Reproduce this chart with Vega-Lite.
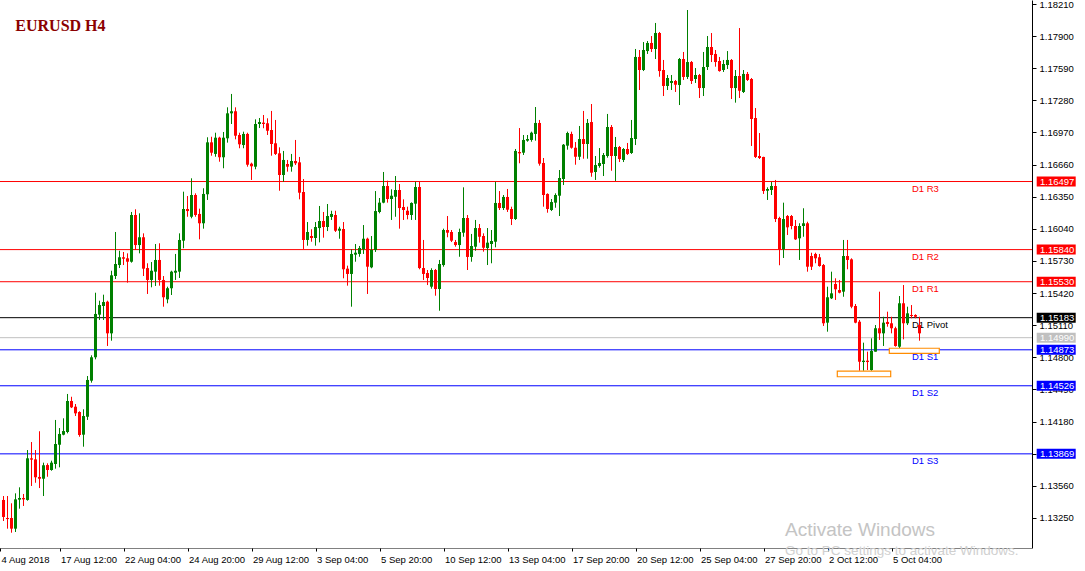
{
  "$schema": "https://vega.github.io/schema/vega-lite/v6.json",
  "width": 1032,
  "height": 548,
  "autosize": {"type": "none"},
  "padding": {"left": 0, "top": 0, "right": 53, "bottom": 23},
  "background": "white",
  "config": {
    "view": {"stroke": null},
    "axis": {"grid": false, "labelOverlap": false, "labelBound": false, "labelFlush": false, "labelFont": "Liberation Sans", "labelFontSize": 9.5, "labelColor": "#000000", "tickColor": "#000000", "domainColor": "#000000"}
  },
  "datasets": {
    "levels": [
      {"name": "D1 R3", "v": 1.16497, "kind": "res"},
      {"name": "D1 R2", "v": 1.1584, "kind": "res"},
      {"name": "D1 R1", "v": 1.1553, "kind": "res"},
      {"name": "D1 Pivot", "v": 1.15183, "kind": "piv"},
      {"name": "", "v": 1.1499, "kind": "bid"},
      {"name": "D1 S1", "v": 1.14873, "kind": "sup"},
      {"name": "D1 S2", "v": 1.14526, "kind": "sup"},
      {"name": "D1 S3", "v": 1.13869, "kind": "sup"}
    ],
    "zones": [
      {"k1": 208.45, "k2": 221.8, "p1": 1.14613, "p2": 1.14668},
      {"k1": 221.45, "k2": 233.95, "p1": 1.14839, "p2": 1.14888}
    ],
    "candles": [
      {"k":0,"o":1.13424,"h":1.13462,"l":1.13221,"c":1.13260},
      {"k":1,"o":1.13250,"h":1.13462,"l":1.13147,"c":1.13240},
      {"k":2,"o":1.13250,"h":1.13392,"l":1.13108,"c":1.13147},
      {"k":3,"o":1.13147,"h":1.13488,"l":1.13115,"c":1.13430},
      {"k":4,"o":1.13427,"h":1.13546,"l":1.13340,"c":1.13443},
      {"k":5,"o":1.13443,"h":1.13482,"l":1.13366,"c":1.13430},
      {"k":6,"o":1.13424,"h":1.13906,"l":1.13417,"c":1.13826},
      {"k":7,"o":1.13826,"h":1.13983,"l":1.13559,"c":1.13813},
      {"k":8,"o":1.13816,"h":1.13906,"l":1.13590,"c":1.13643},
      {"k":9,"o":1.13646,"h":1.14087,"l":1.13539,"c":1.13629},
      {"k":10,"o":1.13629,"h":1.13784,"l":1.13462,"c":1.13759},
      {"k":11,"o":1.13761,"h":1.13778,"l":1.13648,"c":1.13713},
      {"k":12,"o":1.13713,"h":1.13803,"l":1.13706,"c":1.13784},
      {"k":13,"o":1.13771,"h":1.14196,"l":1.13726,"c":1.13964},
      {"k":14,"o":1.13957,"h":1.14118,"l":1.13739,"c":1.14061},
      {"k":15,"o":1.14054,"h":1.14212,"l":1.14048,"c":1.14089},
      {"k":16,"o":1.14080,"h":1.14447,"l":1.14067,"c":1.14379},
      {"k":17,"o":1.14379,"h":1.14420,"l":1.14311,"c":1.14318},
      {"k":18,"o":1.14324,"h":1.14350,"l":1.14234,"c":1.14260},
      {"k":19,"o":1.14273,"h":1.14280,"l":1.14034,"c":1.14051},
      {"k":20,"o":1.14054,"h":1.14299,"l":1.13938,"c":1.14234},
      {"k":21,"o":1.14227,"h":1.14620,"l":1.14196,"c":1.14582},
      {"k":22,"o":1.14575,"h":1.14820,"l":1.14556,"c":1.14801},
      {"k":23,"o":1.14801,"h":1.15424,"l":1.14781,"c":1.15219},
      {"k":24,"o":1.15212,"h":1.15347,"l":1.15161,"c":1.15305},
      {"k":25,"o":1.15296,"h":1.15405,"l":1.15161,"c":1.15334},
      {"k":26,"o":1.15337,"h":1.15347,"l":1.14910,"c":1.15032},
      {"k":27,"o":1.15032,"h":1.15636,"l":1.14961,"c":1.15592},
      {"k":28,"o":1.15585,"h":1.16010,"l":1.15556,"c":1.15701},
      {"k":29,"o":1.15691,"h":1.15829,"l":1.15662,"c":1.15766},
      {"k":30,"o":1.15766,"h":1.15817,"l":1.15691,"c":1.15752},
      {"k":31,"o":1.15756,"h":1.15804,"l":1.15521,"c":1.15723},
      {"k":32,"o":1.15723,"h":1.16203,"l":1.15714,"c":1.16174},
      {"k":33,"o":1.16174,"h":1.16229,"l":1.15836,"c":1.15884},
      {"k":34,"o":1.15884,"h":1.16190,"l":1.15804,"c":1.15959},
      {"k":35,"o":1.15959,"h":1.15997,"l":1.15585,"c":1.15656},
      {"k":36,"o":1.15662,"h":1.15708,"l":1.15412,"c":1.15547},
      {"k":37,"o":1.15547,"h":1.15720,"l":1.15476,"c":1.15636},
      {"k":38,"o":1.15627,"h":1.15894,"l":1.15489,"c":1.15740},
      {"k":39,"o":1.15740,"h":1.15901,"l":1.15492,"c":1.15547},
      {"k":40,"o":1.15547,"h":1.15585,"l":1.15289,"c":1.15380},
      {"k":41,"o":1.15360,"h":1.15482,"l":1.15322,"c":1.15467},
      {"k":42,"o":1.15467,"h":1.15636,"l":1.15402,"c":1.15627},
      {"k":43,"o":1.15617,"h":1.15798,"l":1.15547,"c":1.15636},
      {"k":44,"o":1.15627,"h":1.15997,"l":1.15566,"c":1.15933},
      {"k":45,"o":1.15926,"h":1.16399,"l":1.15853,"c":1.16232},
      {"k":46,"o":1.16232,"h":1.16357,"l":1.16157,"c":1.16212},
      {"k":47,"o":1.16157,"h":1.16528,"l":1.16142,"c":1.16367},
      {"k":48,"o":1.16367,"h":1.16383,"l":1.16157,"c":1.16174},
      {"k":49,"o":1.16184,"h":1.16235,"l":1.15939,"c":1.16094},
      {"k":50,"o":1.16094,"h":1.16432,"l":1.16042,"c":1.16377},
      {"k":51,"o":1.16374,"h":1.16924,"l":1.16319,"c":1.16875},
      {"k":52,"o":1.16875,"h":1.16929,"l":1.16746,"c":1.16775},
      {"k":53,"o":1.16763,"h":1.16968,"l":1.16736,"c":1.16920},
      {"k":54,"o":1.16920,"h":1.16929,"l":1.16688,"c":1.16731},
      {"k":55,"o":1.16731,"h":1.16975,"l":1.16625,"c":1.16920},
      {"k":56,"o":1.16914,"h":1.17213,"l":1.16872,"c":1.17155},
      {"k":57,"o":1.17155,"h":1.17342,"l":1.17052,"c":1.17175},
      {"k":58,"o":1.17175,"h":1.17213,"l":1.16904,"c":1.16939},
      {"k":59,"o":1.16946,"h":1.16968,"l":1.16818,"c":1.16856},
      {"k":60,"o":1.16849,"h":1.16978,"l":1.16818,"c":1.16956},
      {"k":61,"o":1.16956,"h":1.16968,"l":1.16640,"c":1.16659},
      {"k":62,"o":1.16669,"h":1.16679,"l":1.16512,"c":1.16644},
      {"k":63,"o":1.16640,"h":1.17097,"l":1.16615,"c":1.17052},
      {"k":64,"o":1.17052,"h":1.17110,"l":1.17013,"c":1.17071},
      {"k":65,"o":1.17065,"h":1.17139,"l":1.17011,"c":1.17052},
      {"k":66,"o":1.17059,"h":1.17107,"l":1.16946,"c":1.16987},
      {"k":67,"o":1.16994,"h":1.17178,"l":1.16746,"c":1.16859},
      {"k":68,"o":1.16866,"h":1.17091,"l":1.16753,"c":1.16763},
      {"k":69,"o":1.16769,"h":1.16827,"l":1.16408,"c":1.16560},
      {"k":70,"o":1.16560,"h":1.16792,"l":1.16495,"c":1.16705},
      {"k":71,"o":1.16666,"h":1.16705,"l":1.16592,"c":1.16640},
      {"k":72,"o":1.16640,"h":1.16763,"l":1.16592,"c":1.16695},
      {"k":73,"o":1.16695,"h":1.16898,"l":1.16656,"c":1.16673},
      {"k":74,"o":1.16682,"h":1.16734,"l":1.16325,"c":1.16389},
      {"k":75,"o":1.16396,"h":1.16521,"l":1.15846,"c":1.15933},
      {"k":76,"o":1.15933,"h":1.16106,"l":1.15878,"c":1.16010},
      {"k":77,"o":1.15971,"h":1.16036,"l":1.15916,"c":1.15952},
      {"k":78,"o":1.15952,"h":1.16106,"l":1.15878,"c":1.16058},
      {"k":79,"o":1.16048,"h":1.16261,"l":1.15910,"c":1.16116},
      {"k":80,"o":1.16116,"h":1.16203,"l":1.15955,"c":1.16058},
      {"k":81,"o":1.16058,"h":1.16280,"l":1.16019,"c":1.16164},
      {"k":82,"o":1.16155,"h":1.16215,"l":1.16126,"c":1.16184},
      {"k":83,"o":1.16174,"h":1.16215,"l":1.16010,"c":1.16022},
      {"k":84,"o":1.16022,"h":1.16061,"l":1.15945,"c":1.16042},
      {"k":85,"o":1.16039,"h":1.16106,"l":1.15563,"c":1.15650},
      {"k":86,"o":1.15656,"h":1.15685,"l":1.15492,"c":1.15605},
      {"k":87,"o":1.15605,"h":1.15843,"l":1.15289,"c":1.15798},
      {"k":88,"o":1.15791,"h":1.15894,"l":1.15723,"c":1.15810},
      {"k":89,"o":1.15798,"h":1.15875,"l":1.15771,"c":1.15855},
      {"k":90,"o":1.15843,"h":1.16077,"l":1.15798,"c":1.15945},
      {"k":91,"o":1.15945,"h":1.15955,"l":1.15412,"c":1.15675},
      {"k":92,"o":1.15669,"h":1.15971,"l":1.15660,"c":1.15836},
      {"k":93,"o":1.15836,"h":1.16405,"l":1.15817,"c":1.16212},
      {"k":94,"o":1.16203,"h":1.16338,"l":1.16190,"c":1.16293},
      {"k":95,"o":1.16293,"h":1.16589,"l":1.16287,"c":1.16454},
      {"k":96,"o":1.16454,"h":1.16505,"l":1.16293,"c":1.16328},
      {"k":97,"o":1.16328,"h":1.16422,"l":1.16126,"c":1.16360},
      {"k":98,"o":1.16350,"h":1.16550,"l":1.16157,"c":1.16415},
      {"k":99,"o":1.16415,"h":1.16473,"l":1.16042,"c":1.16241},
      {"k":100,"o":1.16251,"h":1.16325,"l":1.16126,"c":1.16222},
      {"k":101,"o":1.16215,"h":1.16254,"l":1.16132,"c":1.16174},
      {"k":102,"o":1.16174,"h":1.16296,"l":1.16126,"c":1.16290},
      {"k":103,"o":1.16283,"h":1.16495,"l":1.16126,"c":1.16444},
      {"k":104,"o":1.16444,"h":1.16495,"l":1.15650,"c":1.15662},
      {"k":105,"o":1.15662,"h":1.15933,"l":1.15547,"c":1.15605},
      {"k":106,"o":1.15614,"h":1.15643,"l":1.15498,"c":1.15566},
      {"k":107,"o":1.15482,"h":1.15660,"l":1.15463,"c":1.15643},
      {"k":108,"o":1.15643,"h":1.15653,"l":1.15395,"c":1.15460},
      {"k":109,"o":1.15460,"h":1.15740,"l":1.15250,"c":1.15701},
      {"k":110,"o":1.15691,"h":1.16042,"l":1.15675,"c":1.16029},
      {"k":111,"o":1.16029,"h":1.16164,"l":1.15959,"c":1.16003},
      {"k":112,"o":1.16010,"h":1.16029,"l":1.15913,"c":1.15926},
      {"k":113,"o":1.15913,"h":1.15933,"l":1.15868,"c":1.15884},
      {"k":114,"o":1.15884,"h":1.16042,"l":1.15771,"c":1.16010},
      {"k":115,"o":1.16003,"h":1.16441,"l":1.15964,"c":1.16145},
      {"k":116,"o":1.16145,"h":1.16174,"l":1.15643,"c":1.15769},
      {"k":117,"o":1.15769,"h":1.15991,"l":1.15723,"c":1.15875},
      {"k":118,"o":1.15868,"h":1.16126,"l":1.15829,"c":1.16048},
      {"k":119,"o":1.16048,"h":1.16087,"l":1.15907,"c":1.15964},
      {"k":120,"o":1.15971,"h":1.15997,"l":1.15820,"c":1.15858},
      {"k":121,"o":1.15855,"h":1.16048,"l":1.15691,"c":1.15907},
      {"k":122,"o":1.15894,"h":1.16029,"l":1.15708,"c":1.15923},
      {"k":123,"o":1.15916,"h":1.16495,"l":1.15862,"c":1.16290},
      {"k":124,"o":1.16290,"h":1.16405,"l":1.16222,"c":1.16241},
      {"k":125,"o":1.16241,"h":1.16367,"l":1.16222,"c":1.16348},
      {"k":126,"o":1.16348,"h":1.16425,"l":1.16203,"c":1.16225},
      {"k":127,"o":1.16232,"h":1.16254,"l":1.16077,"c":1.16135},
      {"k":128,"o":1.16135,"h":1.16811,"l":1.16126,"c":1.16792},
      {"k":129,"o":1.16782,"h":1.17013,"l":1.16673,"c":1.16769},
      {"k":130,"o":1.16775,"h":1.16946,"l":1.16753,"c":1.16898},
      {"k":131,"o":1.16891,"h":1.16946,"l":1.16881,"c":1.16907},
      {"k":132,"o":1.16898,"h":1.16978,"l":1.16881,"c":1.16968},
      {"k":133,"o":1.16956,"h":1.17216,"l":1.16891,"c":1.17062},
      {"k":134,"o":1.17062,"h":1.17091,"l":1.16650,"c":1.16669},
      {"k":135,"o":1.16676,"h":1.16724,"l":1.16254,"c":1.16367},
      {"k":136,"o":1.16377,"h":1.16383,"l":1.16196,"c":1.16232},
      {"k":137,"o":1.16222,"h":1.16328,"l":1.16212,"c":1.16299},
      {"k":138,"o":1.16293,"h":1.16383,"l":1.16244,"c":1.16367},
      {"k":139,"o":1.16360,"h":1.16608,"l":1.16164,"c":1.16531},
      {"k":140,"o":1.16521,"h":1.16859,"l":1.16463,"c":1.16852},
      {"k":141,"o":1.16843,"h":1.16978,"l":1.16804,"c":1.16965},
      {"k":142,"o":1.16956,"h":1.16978,"l":1.16814,"c":1.16823},
      {"k":143,"o":1.16823,"h":1.16878,"l":1.16659,"c":1.16736},
      {"k":144,"o":1.16736,"h":1.17033,"l":1.16705,"c":1.16907},
      {"k":145,"o":1.16907,"h":1.17178,"l":1.16717,"c":1.16859},
      {"k":146,"o":1.16859,"h":1.17100,"l":1.16717,"c":1.17062},
      {"k":147,"o":1.17071,"h":1.17245,"l":1.16543,"c":1.16582},
      {"k":148,"o":1.16589,"h":1.16743,"l":1.16512,"c":1.16656},
      {"k":149,"o":1.16647,"h":1.16820,"l":1.16630,"c":1.16676},
      {"k":150,"o":1.16666,"h":1.16772,"l":1.16550,"c":1.16753},
      {"k":151,"o":1.16743,"h":1.17149,"l":1.16727,"c":1.17023},
      {"k":152,"o":1.17023,"h":1.17042,"l":1.16601,"c":1.16743},
      {"k":153,"o":1.16743,"h":1.16927,"l":1.16502,"c":1.16830},
      {"k":154,"o":1.16830,"h":1.16840,"l":1.16685,"c":1.16714},
      {"k":155,"o":1.16705,"h":1.16820,"l":1.16685,"c":1.16811},
      {"k":156,"o":1.16811,"h":1.16869,"l":1.16753,"c":1.16763},
      {"k":157,"o":1.16772,"h":1.17091,"l":1.16763,"c":1.16917},
      {"k":158,"o":1.16907,"h":1.17776,"l":1.16849,"c":1.17699},
      {"k":159,"o":1.17699,"h":1.17766,"l":1.17380,"c":1.17573},
      {"k":160,"o":1.17573,"h":1.17843,"l":1.17563,"c":1.17766},
      {"k":161,"o":1.17756,"h":1.17853,"l":1.17728,"c":1.17834},
      {"k":162,"o":1.17834,"h":1.17901,"l":1.17747,"c":1.17776},
      {"k":163,"o":1.17776,"h":1.18027,"l":1.17679,"c":1.17930},
      {"k":164,"o":1.17930,"h":1.17940,"l":1.17508,"c":1.17563},
      {"k":165,"o":1.17573,"h":1.17670,"l":1.17322,"c":1.17419},
      {"k":166,"o":1.17419,"h":1.17525,"l":1.17380,"c":1.17496},
      {"k":167,"o":1.17448,"h":1.17525,"l":1.17380,"c":1.17467},
      {"k":168,"o":1.17467,"h":1.17477,"l":1.17361,"c":1.17431},
      {"k":169,"o":1.17428,"h":1.17689,"l":1.17235,"c":1.17679},
      {"k":170,"o":1.17679,"h":1.17747,"l":1.17477,"c":1.17506},
      {"k":171,"o":1.17506,"h":1.18152,"l":1.17486,"c":1.17650},
      {"k":172,"o":1.17650,"h":1.17660,"l":1.17438,"c":1.17467},
      {"k":173,"o":1.17486,"h":1.17592,"l":1.17448,"c":1.17525},
      {"k":174,"o":1.17525,"h":1.17535,"l":1.17303,"c":1.17399},
      {"k":175,"o":1.17399,"h":1.17747,"l":1.17322,"c":1.17602},
      {"k":176,"o":1.17602,"h":1.17901,"l":1.17573,"c":1.17795},
      {"k":177,"o":1.17795,"h":1.17930,"l":1.17650,"c":1.17718},
      {"k":178,"o":1.17728,"h":1.17766,"l":1.17605,"c":1.17650},
      {"k":179,"o":1.17660,"h":1.17699,"l":1.17557,"c":1.17563},
      {"k":180,"o":1.17573,"h":1.17670,"l":1.17554,"c":1.17631},
      {"k":181,"o":1.17621,"h":1.17756,"l":1.17583,"c":1.17670},
      {"k":182,"o":1.17670,"h":1.17679,"l":1.17293,"c":1.17399},
      {"k":183,"o":1.17399,"h":1.17573,"l":1.17258,"c":1.17515},
      {"k":184,"o":1.17515,"h":1.17978,"l":1.17303,"c":1.17373},
      {"k":185,"o":1.17361,"h":1.17573,"l":1.17351,"c":1.17535},
      {"k":186,"o":1.17535,"h":1.17554,"l":1.17467,"c":1.17477},
      {"k":187,"o":1.17486,"h":1.17496,"l":1.16840,"c":1.17100},
      {"k":188,"o":1.17110,"h":1.17206,"l":1.16724,"c":1.16734},
      {"k":189,"o":1.16743,"h":1.16965,"l":1.16714,"c":1.16724},
      {"k":190,"o":1.16734,"h":1.16736,"l":1.16377,"c":1.16405},
      {"k":191,"o":1.16408,"h":1.16441,"l":1.16319,"c":1.16425},
      {"k":192,"o":1.16415,"h":1.16492,"l":1.16367,"c":1.16454},
      {"k":193,"o":1.16454,"h":1.16512,"l":1.16106,"c":1.16135},
      {"k":194,"o":1.16145,"h":1.16157,"l":1.15689,"c":1.15843},
      {"k":195,"o":1.15843,"h":1.16293,"l":1.15759,"c":1.16135},
      {"k":196,"o":1.16164,"h":1.16174,"l":1.15981,"c":1.16055},
      {"k":197,"o":1.16164,"h":1.16174,"l":1.16036,"c":1.16068},
      {"k":198,"o":1.16068,"h":1.16126,"l":1.15933,"c":1.15939},
      {"k":199,"o":1.15949,"h":1.16094,"l":1.15740,"c":1.16068},
      {"k":200,"o":1.16068,"h":1.16239,"l":1.15964,"c":1.16094},
      {"k":201,"o":1.16094,"h":1.16109,"l":1.15627,"c":1.15675},
      {"k":202,"o":1.15778,"h":1.15810,"l":1.15643,"c":1.15675},
      {"k":203,"o":1.15798,"h":1.15810,"l":1.15708,"c":1.15756},
      {"k":204,"o":1.15766,"h":1.15798,"l":1.15675,"c":1.15682},
      {"k":205,"o":1.15691,"h":1.15701,"l":1.15103,"c":1.15129},
      {"k":206,"o":1.15135,"h":1.15482,"l":1.15048,"c":1.15380},
      {"k":207,"o":1.15370,"h":1.15627,"l":1.15363,"c":1.15418},
      {"k":208,"o":1.15508,"h":1.15563,"l":1.15354,"c":1.15457},
      {"k":209,"o":1.15450,"h":1.15547,"l":1.15418,"c":1.15424},
      {"k":210,"o":1.15434,"h":1.15933,"l":1.15385,"c":1.15778},
      {"k":211,"o":1.15778,"h":1.15933,"l":1.15650,"c":1.15740},
      {"k":212,"o":1.15746,"h":1.15756,"l":1.15274,"c":1.15289},
      {"k":213,"o":1.15296,"h":1.15315,"l":1.15129,"c":1.15135},
      {"k":214,"o":1.15144,"h":1.15161,"l":1.14671,"c":1.14758},
      {"k":215,"o":1.14755,"h":1.14942,"l":1.14671,"c":1.14768},
      {"k":216,"o":1.14768,"h":1.14855,"l":1.14678,"c":1.14755},
      {"k":217,"o":1.14678,"h":1.14984,"l":1.14671,"c":1.14862},
      {"k":218,"o":1.14855,"h":1.15112,"l":1.14855,"c":1.15081},
      {"k":219,"o":1.15081,"h":1.15434,"l":1.14968,"c":1.15032},
      {"k":220,"o":1.15032,"h":1.15192,"l":1.14910,"c":1.15135},
      {"k":221,"o":1.15142,"h":1.15241,"l":1.15096,"c":1.15122},
      {"k":222,"o":1.15129,"h":1.15192,"l":1.15032,"c":1.15081},
      {"k":223,"o":1.15081,"h":1.15096,"l":1.14903,"c":1.14910},
      {"k":224,"o":1.14903,"h":1.15392,"l":1.14888,"c":1.15322},
      {"k":225,"o":1.15322,"h":1.15498,"l":1.14974,"c":1.15129},
      {"k":226,"o":1.15129,"h":1.15289,"l":1.15112,"c":1.15225},
      {"k":227,"o":1.15209,"h":1.15305,"l":1.15177,"c":1.15199},
      {"k":228,"o":1.15209,"h":1.15216,"l":1.15177,"c":1.15192},
      {"k":229,"o":1.15112,"h":1.15192,"l":1.14961,"c":1.15032}
    ]
  },
  "layer": [
    {
      "data": {"name": "levels"},
      "mark": {"type": "rule", "strokeWidth": 1},
      "encoding": {
        "y": {"field": "v", "type": "quantitative", "title": null,
              "scale": {"domain": [1.129605, 1.182486], "nice": false, "zero": false},
              "axis": {"orient": "right", "values": [1.1821, 1.179, 1.1759, 1.1728, 1.1697, 1.1666, 1.1635, 1.1604, 1.1573, 1.1542, 1.1511, 1.148, 1.1449, 1.1418, 1.1387, 1.1356, 1.1325], "format": ".5f", "labelPadding": 3, "labelBaseline": "middle", "tickSize": 4, "labelOverlap": false}},
        "color": {"field": "kind", "type": "nominal", "legend": null,
                  "scale": {"domain": ["res", "piv", "bid", "sup"], "range": ["#FF0000", "#000000", "#C0C0C0", "#0000FF"]}}
      }
    },
    {
      "data": {"name": "levels"},
      "mark": {"type": "text", "align": "left", "baseline": "top", "dy": 2, "font": "Liberation Sans", "fontSize": 9.5},
      "encoding": {
        "x": {"datum": 227.1, "type": "quantitative", "title": null,
              "axis": {"orient": "bottom", "values": [-0.875, 14, 30, 46, 62, 78, 94, 110, 126, 142, 158, 174, 190, 206, 222], "labelExpr": "['4 Aug 2018','17 Aug 12:00','22 Aug 04:00','24 Aug 20:00','29 Aug 12:00','3 Sep 04:00','5 Sep 20:00','10 Sep 12:00','13 Sep 04:00','17 Sep 20:00','20 Sep 12:00','25 Sep 04:00','27 Sep 20:00','2 Oct 12:00','5 Oct 04:00'][datum.value < 0 ? 0 : (datum.value + 2) / 16]", "labelAlign": "left", "labelBaseline": "top", "labelPadding": 3, "labelOffset": 1, "tickSize": 3, "domainDash": [1, 1], "labelOverlap": false}},
        "y": {"field": "v", "type": "quantitative", "title": null,
              "axis": {"orient": "right", "values": [1.1821, 1.179, 1.1759, 1.1728, 1.1697, 1.1666, 1.1635, 1.1604, 1.1573, 1.1542, 1.1511, 1.148, 1.1449, 1.1418, 1.1387, 1.1356, 1.1325], "format": ".5f", "labelPadding": 3, "labelBaseline": "middle", "tickSize": 4, "labelOverlap": false}},
        "text": {"field": "name"},
        "color": {"field": "kind", "type": "nominal", "legend": null,
                  "scale": {"domain": ["res", "piv", "bid", "sup"], "range": ["#FF0000", "#000000", "#C0C0C0", "#0000FF"]}}
      }
    },
    {
      "data": {"name": "candles"},
      "mark": {"type": "rule", "strokeWidth": 1},
      "encoding": {
        "x": {"field": "k", "type": "quantitative", "title": null,
              "scale": {"domain": [-0.875, 257.125], "nice": false, "zero": false},
              "axis": {"orient": "bottom", "values": [-0.875, 14, 30, 46, 62, 78, 94, 110, 126, 142, 158, 174, 190, 206, 222], "labelExpr": "['4 Aug 2018','17 Aug 12:00','22 Aug 04:00','24 Aug 20:00','29 Aug 12:00','3 Sep 04:00','5 Sep 20:00','10 Sep 12:00','13 Sep 04:00','17 Sep 20:00','20 Sep 12:00','25 Sep 04:00','27 Sep 20:00','2 Oct 12:00','5 Oct 04:00'][datum.value < 0 ? 0 : (datum.value + 2) / 16]", "labelAlign": "left", "labelBaseline": "top", "labelPadding": 3, "labelOffset": 1, "tickSize": 3, "domainDash": [1, 1], "labelOverlap": false}},
        "y": {"field": "l", "type": "quantitative", "title": null,
              "axis": {"orient": "right", "values": [1.1821, 1.179, 1.1759, 1.1728, 1.1697, 1.1666, 1.1635, 1.1604, 1.1573, 1.1542, 1.1511, 1.148, 1.1449, 1.1418, 1.1387, 1.1356, 1.1325], "format": ".5f", "labelPadding": 3, "labelBaseline": "middle", "tickSize": 4, "labelOverlap": false}},
        "y2": {"field": "h"},
        "color": {"condition": {"test": "datum.c >= datum.o", "value": "#008000"}, "value": "#FF0000"}
      }
    },
    {
      "data": {"name": "candles"},
      "mark": {"type": "rule", "strokeWidth": 3, "strokeCap": "butt"},
      "encoding": {
        "x": {"field": "k", "type": "quantitative", "title": null,
              "axis": {"orient": "bottom", "values": [-0.875, 14, 30, 46, 62, 78, 94, 110, 126, 142, 158, 174, 190, 206, 222], "labelExpr": "['4 Aug 2018','17 Aug 12:00','22 Aug 04:00','24 Aug 20:00','29 Aug 12:00','3 Sep 04:00','5 Sep 20:00','10 Sep 12:00','13 Sep 04:00','17 Sep 20:00','20 Sep 12:00','25 Sep 04:00','27 Sep 20:00','2 Oct 12:00','5 Oct 04:00'][datum.value < 0 ? 0 : (datum.value + 2) / 16]", "labelAlign": "left", "labelBaseline": "top", "labelPadding": 3, "labelOffset": 1, "tickSize": 3, "domainDash": [1, 1], "labelOverlap": false}},
        "y": {"field": "o", "type": "quantitative", "title": null,
              "axis": {"orient": "right", "values": [1.1821, 1.179, 1.1759, 1.1728, 1.1697, 1.1666, 1.1635, 1.1604, 1.1573, 1.1542, 1.1511, 1.148, 1.1449, 1.1418, 1.1387, 1.1356, 1.1325], "format": ".5f", "labelPadding": 3, "labelBaseline": "middle", "tickSize": 4, "labelOverlap": false}},
        "y2": {"field": "c"},
        "color": {"condition": {"test": "datum.c >= datum.o", "value": "#008000"}, "value": "#FF0000"}
      }
    },
    {
      "data": {"name": "zones"},
      "mark": {"type": "rect", "fill": "#FFFFFF", "stroke": "#FF8C00", "strokeWidth": 1.2},
      "encoding": {
        "x": {"field": "k1", "type": "quantitative", "title": null,
              "axis": {"orient": "bottom", "values": [-0.875, 14, 30, 46, 62, 78, 94, 110, 126, 142, 158, 174, 190, 206, 222], "labelExpr": "['4 Aug 2018','17 Aug 12:00','22 Aug 04:00','24 Aug 20:00','29 Aug 12:00','3 Sep 04:00','5 Sep 20:00','10 Sep 12:00','13 Sep 04:00','17 Sep 20:00','20 Sep 12:00','25 Sep 04:00','27 Sep 20:00','2 Oct 12:00','5 Oct 04:00'][datum.value < 0 ? 0 : (datum.value + 2) / 16]", "labelAlign": "left", "labelBaseline": "top", "labelPadding": 3, "labelOffset": 1, "tickSize": 3, "domainDash": [1, 1], "labelOverlap": false}},
        "x2": {"field": "k2"},
        "y": {"field": "p1", "type": "quantitative", "title": null,
              "axis": {"orient": "right", "values": [1.1821, 1.179, 1.1759, 1.1728, 1.1697, 1.1666, 1.1635, 1.1604, 1.1573, 1.1542, 1.1511, 1.148, 1.1449, 1.1418, 1.1387, 1.1356, 1.1325], "format": ".5f", "labelPadding": 3, "labelBaseline": "middle", "tickSize": 4, "labelOverlap": false}},
        "y2": {"field": "p2"}
      }
    },
    {
      "data": {"name": "levels"},
      "mark": {"type": "rule", "strokeWidth": 10, "strokeCap": "butt"},
      "encoding": {
        "x": {"datum": 258.3, "type": "quantitative", "title": null,
              "axis": {"orient": "bottom", "values": [-0.875, 14, 30, 46, 62, 78, 94, 110, 126, 142, 158, 174, 190, 206, 222], "labelExpr": "['4 Aug 2018','17 Aug 12:00','22 Aug 04:00','24 Aug 20:00','29 Aug 12:00','3 Sep 04:00','5 Sep 20:00','10 Sep 12:00','13 Sep 04:00','17 Sep 20:00','20 Sep 12:00','25 Sep 04:00','27 Sep 20:00','2 Oct 12:00','5 Oct 04:00'][datum.value < 0 ? 0 : (datum.value + 2) / 16]", "labelAlign": "left", "labelBaseline": "top", "labelPadding": 3, "labelOffset": 1, "tickSize": 3, "domainDash": [1, 1], "labelOverlap": false}},
        "x2": {"datum": 268.05},
        "y": {"field": "v", "type": "quantitative", "title": null,
              "axis": {"orient": "right", "values": [1.1821, 1.179, 1.1759, 1.1728, 1.1697, 1.1666, 1.1635, 1.1604, 1.1573, 1.1542, 1.1511, 1.148, 1.1449, 1.1418, 1.1387, 1.1356, 1.1325], "format": ".5f", "labelPadding": 3, "labelBaseline": "middle", "tickSize": 4, "labelOverlap": false}},
        "color": {"field": "kind", "type": "nominal", "legend": null,
                  "scale": {"domain": ["res", "piv", "bid", "sup"], "range": ["#FF0000", "#000000", "#C0C0C0", "#0000FF"]}}
      }
    },
    {
      "data": {"name": "levels"},
      "mark": {"type": "text", "align": "left", "baseline": "middle", "font": "Liberation Sans", "fontSize": 9.5, "fill": "#FFFFFF"},
      "encoding": {
        "x": {"datum": 259.125, "type": "quantitative", "title": null,
              "axis": {"orient": "bottom", "values": [-0.875, 14, 30, 46, 62, 78, 94, 110, 126, 142, 158, 174, 190, 206, 222], "labelExpr": "['4 Aug 2018','17 Aug 12:00','22 Aug 04:00','24 Aug 20:00','29 Aug 12:00','3 Sep 04:00','5 Sep 20:00','10 Sep 12:00','13 Sep 04:00','17 Sep 20:00','20 Sep 12:00','25 Sep 04:00','27 Sep 20:00','2 Oct 12:00','5 Oct 04:00'][datum.value < 0 ? 0 : (datum.value + 2) / 16]", "labelAlign": "left", "labelBaseline": "top", "labelPadding": 3, "labelOffset": 1, "tickSize": 3, "domainDash": [1, 1], "labelOverlap": false}},
        "y": {"field": "v", "type": "quantitative", "title": null,
              "axis": {"orient": "right", "values": [1.1821, 1.179, 1.1759, 1.1728, 1.1697, 1.1666, 1.1635, 1.1604, 1.1573, 1.1542, 1.1511, 1.148, 1.1449, 1.1418, 1.1387, 1.1356, 1.1325], "format": ".5f", "labelPadding": 3, "labelBaseline": "middle", "tickSize": 4, "labelOverlap": false}},
        "text": {"field": "v", "format": ".5f"}
      }
    },
    {
      "data": {"values": [{"t": "EURUSD H4"}]},
      "mark": {"type": "text", "align": "left", "baseline": "alphabetic", "font": "Liberation Serif", "fontWeight": "bold", "fontSize": 16, "fill": "#8B0000"},
      "encoding": {
        "x": {"datum": 2.95, "type": "quantitative", "title": null,
              "axis": {"orient": "bottom", "values": [-0.875, 14, 30, 46, 62, 78, 94, 110, 126, 142, 158, 174, 190, 206, 222], "labelExpr": "['4 Aug 2018','17 Aug 12:00','22 Aug 04:00','24 Aug 20:00','29 Aug 12:00','3 Sep 04:00','5 Sep 20:00','10 Sep 12:00','13 Sep 04:00','17 Sep 20:00','20 Sep 12:00','25 Sep 04:00','27 Sep 20:00','2 Oct 12:00','5 Oct 04:00'][datum.value < 0 ? 0 : (datum.value + 2) / 16]", "labelAlign": "left", "labelBaseline": "top", "labelPadding": 3, "labelOffset": 1, "tickSize": 3, "domainDash": [1, 1], "labelOverlap": false}},
        "y": {"datum": 1.17945, "type": "quantitative", "title": null,
              "axis": {"orient": "right", "values": [1.1821, 1.179, 1.1759, 1.1728, 1.1697, 1.1666, 1.1635, 1.1604, 1.1573, 1.1542, 1.1511, 1.148, 1.1449, 1.1418, 1.1387, 1.1356, 1.1325], "format": ".5f", "labelPadding": 3, "labelBaseline": "middle", "tickSize": 4, "labelOverlap": false}},
        "text": {"field": "t"}
      }
    },
    {
      "data": {"values": [{"t": "Activate Windows"}]},
      "mark": {"type": "text", "align": "left", "baseline": "alphabetic", "font": "Liberation Sans", "fontSize": 19, "fill": "#C4C4C4"},
      "encoding": {
        "x": {"datum": 195.4, "type": "quantitative", "title": null,
              "axis": {"orient": "bottom", "values": [-0.875, 14, 30, 46, 62, 78, 94, 110, 126, 142, 158, 174, 190, 206, 222], "labelExpr": "['4 Aug 2018','17 Aug 12:00','22 Aug 04:00','24 Aug 20:00','29 Aug 12:00','3 Sep 04:00','5 Sep 20:00','10 Sep 12:00','13 Sep 04:00','17 Sep 20:00','20 Sep 12:00','25 Sep 04:00','27 Sep 20:00','2 Oct 12:00','5 Oct 04:00'][datum.value < 0 ? 0 : (datum.value + 2) / 16]", "labelAlign": "left", "labelBaseline": "top", "labelPadding": 3, "labelOffset": 1, "tickSize": 3, "domainDash": [1, 1], "labelOverlap": false}},
        "y": {"datum": 1.13076, "type": "quantitative", "title": null,
              "axis": {"orient": "right", "values": [1.1821, 1.179, 1.1759, 1.1728, 1.1697, 1.1666, 1.1635, 1.1604, 1.1573, 1.1542, 1.1511, 1.148, 1.1449, 1.1418, 1.1387, 1.1356, 1.1325], "format": ".5f", "labelPadding": 3, "labelBaseline": "middle", "tickSize": 4, "labelOverlap": false}},
        "text": {"field": "t"}
      }
    },
    {
      "data": {"values": [{"t": "Go to PC settings to activate Windows."}]},
      "mark": {"type": "text", "align": "left", "baseline": "alphabetic", "font": "Liberation Sans", "fontSize": 13.5, "fill": "#D0D0D0"},
      "encoding": {
        "x": {"datum": 195.4, "type": "quantitative", "title": null,
              "axis": {"orient": "bottom", "values": [-0.875, 14, 30, 46, 62, 78, 94, 110, 126, 142, 158, 174, 190, 206, 222], "labelExpr": "['4 Aug 2018','17 Aug 12:00','22 Aug 04:00','24 Aug 20:00','29 Aug 12:00','3 Sep 04:00','5 Sep 20:00','10 Sep 12:00','13 Sep 04:00','17 Sep 20:00','20 Sep 12:00','25 Sep 04:00','27 Sep 20:00','2 Oct 12:00','5 Oct 04:00'][datum.value < 0 ? 0 : (datum.value + 2) / 16]", "labelAlign": "left", "labelBaseline": "top", "labelPadding": 3, "labelOffset": 1, "tickSize": 3, "domainDash": [1, 1], "labelOverlap": false}},
        "y": {"datum": 1.12893, "type": "quantitative", "title": null,
              "axis": {"orient": "right", "values": [1.1821, 1.179, 1.1759, 1.1728, 1.1697, 1.1666, 1.1635, 1.1604, 1.1573, 1.1542, 1.1511, 1.148, 1.1449, 1.1418, 1.1387, 1.1356, 1.1325], "format": ".5f", "labelPadding": 3, "labelBaseline": "middle", "tickSize": 4, "labelOverlap": false}},
        "text": {"field": "t"}
      }
    }
  ]
}
